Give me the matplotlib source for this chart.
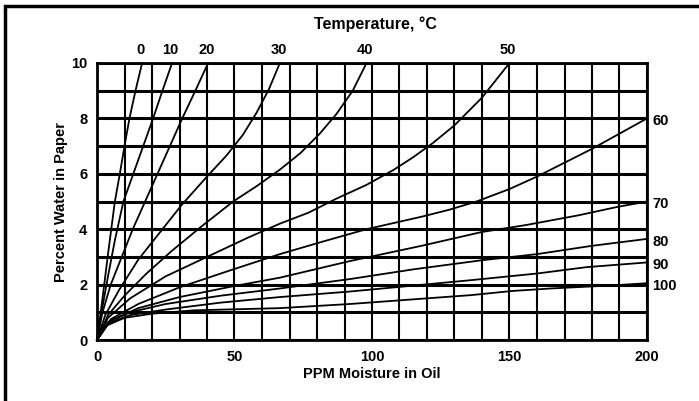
import matplotlib
matplotlib.use("Agg")
import matplotlib.pyplot as plt
from matplotlib.patches import Rectangle

plt.rcParams["font.family"] = ["Liberation Sans", "DejaVu Sans"]

# ---- data ----
temps_top = ["0", "10", "20", "30", "40", "50"]
temps_right = ["60", "70", "80", "90", "100"]

ppm_0 = [0, 2, 4, 6.5, 8.3, 10, 11.8, 14, 16.4]
pct_0 = [0, 1.5, 3.1, 5.0, 6.0, 7.0, 8.0, 9.0, 10]

ppm_10 = [0, 2, 4, 6.5, 9.6, 13.2, 16.8, 20.4, 23.8, 27.3]
pct_10 = [0, 1.2, 2.3, 3.6, 5.0, 6.0, 7.0, 8.0, 9.0, 10]

ppm_20 = [0, 2, 5, 9, 13, 17.5, 22, 26.5, 31, 36, 40.4]
pct_20 = [0, 1.0, 2.0, 3.0, 4.0, 5.0, 6.0, 7.0, 8.0, 9.05, 10]

ppm_30 = [0, 3, 8, 15, 23, 31, 40, 47, 53, 58, 62.5, 66.5]
pct_30 = [0, 0.9, 1.8, 2.9, 3.9, 4.9, 5.9, 6.65, 7.4, 8.2, 9.05, 10]

ppm_40 = [0, 4, 10, 18, 27, 38, 49.5, 58, 66.5, 74, 81, 87, 93, 98]
pct_40 = [0, 0.9, 1.6, 2.4, 3.2, 4.1, 5.0, 5.55, 6.15, 6.75, 7.45, 8.15, 9.0, 10]

ppm_50 = [0, 4, 12, 25, 40, 55, 66.5, 77, 87, 98, 108, 115, 122, 130, 140, 150]
pct_50 = [0, 0.8, 1.5, 2.3, 3.0, 3.7, 4.2, 4.6, 5.1, 5.6, 6.15, 6.6, 7.1, 7.75, 8.75, 10]

ppm_60 = [0, 5, 15, 30, 48, 66.5, 82, 98, 118, 128, 138, 150, 160, 170, 180, 190, 200]
pct_60 = [0, 0.75, 1.3, 1.9, 2.5, 3.1, 3.55, 4.0, 4.45, 4.7, 5.0, 5.45, 5.9, 6.4, 6.9, 7.45, 8.0]

ppm_70 = [0, 5, 15, 30, 50, 66.5, 92, 118, 140, 156, 175, 189, 200]
pct_70 = [0, 0.7, 1.15, 1.55, 1.95, 2.25, 2.85, 3.4, 3.9, 4.15, 4.5, 4.8, 5.0]

ppm_80 = [0, 4, 12, 25, 45, 66.5, 92, 115, 140, 160, 180, 200]
pct_80 = [0, 0.65, 1.0, 1.3, 1.6, 1.86, 2.2, 2.55, 2.88, 3.1, 3.4, 3.65]

ppm_90 = [0, 4, 12, 25, 45, 66.5, 92, 136, 160, 178, 200]
pct_90 = [0, 0.6, 0.9, 1.1, 1.35, 1.55, 1.75, 2.16, 2.4, 2.63, 2.8]

ppm_100 = [0, 3, 10, 20, 35, 66.5, 92, 136, 151, 165, 189, 200]
pct_100 = [0, 0.5, 0.8, 0.95, 1.07, 1.15, 1.3, 1.62, 1.77, 1.86, 1.98, 2.05]

x_ticks = [0, 50, 100, 150, 200]
y_ticks = [0, 2, 4, 6, 8, 10]

curves_top = [(ppm_0, pct_0), (ppm_10, pct_10), (ppm_20, pct_20),
              (ppm_30, pct_30), (ppm_40, pct_40), (ppm_50, pct_50)]
curves_right = [(ppm_60, pct_60), (ppm_70, pct_70), (ppm_80, pct_80),
                (ppm_90, pct_90), (ppm_100, pct_100)]

# ---- figure ----
W, H = 699, 401
fig = plt.figure(figsize=(W / 100, H / 100), dpi=100)
fig.patch.set_facecolor("white")

# outer frame (only left/top visible in the reference)
fig.patches.append(Rectangle((5 / W, -0.05), 1.2, 1 - 6 / H + 0.05,
                             transform=fig.transFigure, fill=False,
                             edgecolor="black", linewidth=2.5))

left, right, top, bottom = 97, 647, 63, 340
ax = fig.add_axes([left / W, 1 - bottom / H, (right - left) / W, (bottom - top) / H])
ax.set_xlim(0, 200)
ax.set_ylim(0, 10)

# grid
for gx in range(0, 201, 10):
    ax.axvline(gx, color="black", lw=1.5, zorder=1)
for gy in range(0, 11, 1):
    ax.axhline(gy, color="black", lw=2.2, zorder=1)
for s in ax.spines.values():
    s.set_linewidth(2.0)

# curves
for (xs, ys) in curves_top + curves_right:
    ax.plot(xs, ys, color="black", lw=1.3, zorder=3, clip_on=False)

fs = 10.5
for lab, (xs, ys) in zip(temps_top, curves_top):
    ax.annotate(lab, xy=(xs[-1], ys[-1]), xytext=(-1, 4), textcoords="offset points",
                ha="center", va="bottom", fontsize=fs, fontweight="bold")
for lab, (xs, ys) in zip(temps_right, curves_right):
    ax.annotate(lab, xy=(xs[-1], ys[-1]), xytext=(4, -2), textcoords="offset points",
                ha="left", va="center", fontsize=fs, fontweight="bold")

ax.set_xticks(x_ticks)
ax.set_yticks(y_ticks)
ax.set_xticklabels([str(v) for v in x_ticks], fontsize=fs, fontweight="bold")
ax.set_yticklabels([str(v) for v in y_ticks], fontsize=fs, fontweight="bold")
ax.tick_params(length=0, pad=7)

ax.set_xlabel("PPM Moisture in Oil", fontsize=fs, fontweight="bold", labelpad=2)
ax.set_ylabel("Percent Water in Paper", fontsize=fs, fontweight="bold", labelpad=2)

fig.text(375 / W, 1 - 24 / H, "Temperature, °C", ha="center", va="center",
         fontsize=11.5, fontweight="bold")

fig.savefig("out.png", dpi=100)
